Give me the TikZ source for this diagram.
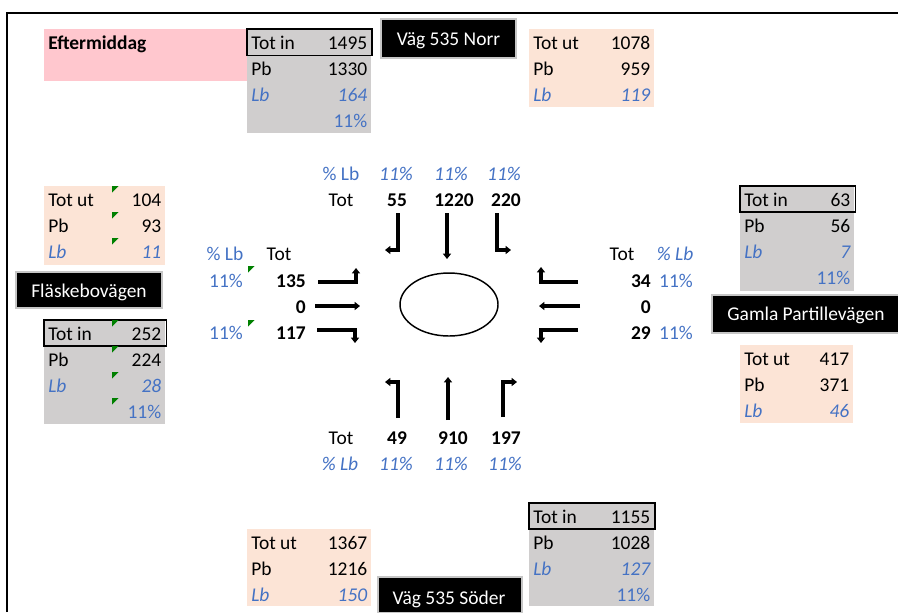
\documentclass[tikz,border=0pt]{standalone}
\usepackage{fontspec}
\setmainfont{Carlito}
\usetikzlibrary{arrows.meta}
\definecolor{lbbla}{HTML}{4472C4}
\definecolor{gra}{HTML}{D0CECE}
\definecolor{persika}{HTML}{FCE4D6}
\definecolor{rosa}{HTML}{FFC7CE}
\definecolor{felgron}{HTML}{008000}
\tikzset{
  txt/.style={font=\fontsize{14.6}{17}\selectfont, inner sep=0pt},
  lbl/.style={txt, anchor=base west},
  tal/.style={txt, anchor=base east},
  mitt/.style={txt, anchor=base},
  svart/.style={text=black},
  bla/.style={text=lbbla},
  lbit/.style={text=lbbla, font=\fontsize{14.6}{17}\selectfont\itshape},
  fet/.style={font=\fontsize{14.6}{17}\selectfont\bfseries},
  skylt/.style={fill=black, draw=gray!45, line width=1pt},
  skylttext/.style={txt, text=white, anchor=base},
  pil/.style={line width=2.5pt, -{Triangle[width=6pt,length=4pt]}},
  ram/.style={line width=0.8pt}
}
\newcommand{\tabell}[7]{%
  \fill[#6] (#2,#3) rectangle (#4,#5);
  \foreach \lab/\val/\st [count=\i] in {#7} {
    \node[lbl,\st] (#1-l\i) at (#2+4,#3+26*\i-5.5) {\lab};
    \node[tal,\st] (#1-v\i) at (#4-3.5,#3+26*\i-5.5) {\val};
  }}
\newcommand{\hake}[2]{\fill[felgron] (#1,#2) -- ++(6.5,0) -- ++(-6.5,6.5) -- cycle;}

\begin{document}
\begin{tikzpicture}[x=0.75pt,y=-0.75pt]
  \useasboundingbox (0,0) rectangle (898,612);
  \draw[line width=1.5pt] (7,612) -- (7,12.5) -- (898,12.5);

  \fill[rosa] (44,29) rectangle (247,81);
  \node[lbl,fet] (rubrik) at (48,49.5) {Eftermiddag};

  \tabell{norrin}{247}{29}{371}{133}{gra}{Tot in/1495/svart, Pb/1330/svart, Lb/164/lbit, /11\%/bla}
  \draw[ram] (247,29) rectangle (372,55.5);
  \tabell{norrut}{529}{29}{654}{107}{persika}{Tot ut/1078/svart, Pb/959/svart, Lb/119/lbit}

  \tabell{vastut}{44}{186}{165}{265}{persika}{Tot ut/104/svart, Pb/93/svart, Lb/11/lbit}
  \tabell{vastin}{44}{320}{165}{424}{gra}{Tot in/252/svart, Pb/224/svart, Lb/28/lbit, /11\%/bla}
  \draw[ram] (44,320) rectangle (166.5,346);
  \foreach \y in {186,212,238,320,346,372,398} {\hake{112}{\y}}
  \hake{248}{266}
  \hake{248}{320}

  \tabell{ostin}{740}{186}{854}{291}{gra}{Tot in/63/svart, Pb/56/svart, Lb/7/lbit, /11\%/bla}
  \draw[ram] (740,186) rectangle (855.5,212);
  \tabell{ostut}{740}{345}{853}{423}{persika}{Tot ut/417/svart, Pb/371/svart, Lb/46/lbit}

  \tabell{soderut}{247}{529}{371}{606}{persika}{Tot ut/1367/svart, Pb/1216/svart, Lb/150/lbit}
  \tabell{soderin}{529}{503}{654}{606}{gra}{Tot in/1155/svart, Pb/1028/svart, Lb/127/lbit, /11\%/bla}
  \draw[ram] (529,503) rectangle (655,529);

  \draw[skylt] (381,19) rectangle (516,58);
  \node[skylttext] (norr) at (448.5,45.5) {Väg 535 Norr};
  \draw[skylt] (16,272) rectangle (162,308);
  \node[skylttext] (vast) at (89,297.5) {Fläskebovägen};
  \draw[skylt] (712,295) rectangle (899,333);
  \node[skylttext] (ost) at (806,320.5) {Gamla Partillevägen};
  \draw[skylt] (378,577) rectangle (522,613);
  \node[skylttext] (soder) at (449,604.5) {Väg 535 Söder};

  \node[mitt,bla] (n-pl) at (341,180.5) {\% Lb};
  \foreach \x [count=\i] in {396,451,504} \node[mitt,lbit] (n-p\i) at (\x,180.5) {11\%};
  \node[mitt] (n-tot) at (341,206.5) {Tot};
  \foreach \x/\v [count=\i] in {397/55,454/1220,506/220} \node[mitt,fet] (n-v\i) at (\x,206.5) {\v};

  \node[mitt,bla] (v-pl) at (225,260.5) {\% Lb};
  \node[mitt] (v-tot) at (279,260.5) {Tot};
  \node[mitt,bla] (v-p1) at (226,287.5) {11\%};
  \node[mitt,bla] (v-p3) at (226,339.5) {11\%};
  \foreach \y/\v [count=\i] in {287.5/135,313.5/0,339.5/117} \node[tal,fet] (v-v\i) at (306,\y) {\v};

  \node[mitt] (o-tot) at (622,260.5) {Tot};
  \node[mitt,lbit] (o-pl) at (675,260.5) {\% Lb};
  \foreach \y/\v [count=\i] in {287.5/34,313.5/0,339.5/29} \node[tal,fet] (o-v\i) at (651,\y) {\v};
  \node[mitt,bla] (o-p1) at (676,287.5) {11\%};
  \node[mitt,bla] (o-p3) at (676,339.5) {11\%};

  \node[mitt] (s-tot) at (341,444.5) {Tot};
  \foreach \x/\v [count=\i] in {397/49,453/910,506/197} \node[mitt,fet] (s-v\i) at (\x,444.5) {\v};
  \node[mitt,lbit] (s-pl) at (340,470.5) {\% Lb};
  \foreach \x [count=\i] in {396,451,505} \node[mitt,lbit] (s-p\i) at (\x,470.5) {11\%};

  \draw[line width=1.1pt] (449,304.5) ellipse [x radius=49, y radius=31.5];

  \draw[pil] (398,213) -- (398,250) -- (385,250);
  \draw[pil] (447,213) -- (447,259);
  \draw[pil] (497,213) -- (497,250) -- (511,250);

  \draw[pil] (318,282) -- (356,282) -- (356,268);
  \draw[pil] (315,306) -- (360,306);
  \draw[pil] (317,330) -- (355,330) -- (355,343);

  \draw[pil] (578,282) -- (541,282) -- (541,267);
  \draw[pil] (580,306) -- (539,306);
  \draw[pil] (578,330) -- (541,330) -- (541,343);

  \draw[pil] (398,418) -- (398,382) -- (385,382);
  \draw[pil] (448,420) -- (448,377);
  \draw[pil] (503,417) -- (503,382) -- (517,382);
\end{tikzpicture}
\end{document}
